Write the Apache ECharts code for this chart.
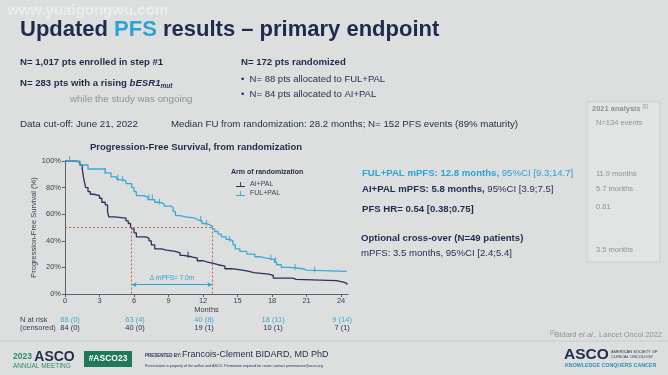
<!DOCTYPE html>
<html>
<head>
<meta charset="utf-8">
<script src="https://cdn.jsdelivr.net/npm/echarts@6/dist/echarts.min.js"></script>
<style>
  html, body { margin: 0; padding: 0; background: #dcdfde; }
  #main { width: 668px; height: 375px; }
</style>
</head>
<body>
<div id="main"></div>
<script>
// KM curves: time (months) where the step happens, survival (%) after it
const fulTimes = [0, 1.3, 2.0, 3.5, 4.0, 4.5, 5.0, 5.3, 5.8, 6.0, 6.2, 6.8, 7.2, 7.8, 8.2, 8.6, 9.2, 9.4, 9.6, 10.0, 10.5, 11.3, 11.5, 11.9, 12.3, 12.6, 12.8, 13.0, 13.3, 13.6, 14.0, 14.3, 14.6, 14.8, 15.2, 15.8, 16.5, 17.0, 17.5, 18.2, 18.4, 18.8, 19.5, 20.7, 21.0, 24.5];
const fulSurv  = [100, 97, 94, 91, 88, 86, 85, 83, 80, 77, 74, 73, 71, 69, 68, 66, 65, 62, 59, 58, 57, 56, 55, 53, 52, 51, 49, 47, 45, 43, 41, 40, 37, 34, 32, 30, 28, 27, 26, 24, 22, 20, 19, 18, 17, 17];
const aiTimes  = [0, 1.0, 1.3, 1.5, 1.6, 1.7, 1.8, 2.0, 2.2, 2.5, 3.0, 3.2, 3.5, 3.7, 3.8, 4.0, 4.3, 5.3, 5.5, 5.7, 5.8, 6.0, 6.2, 7.0, 7.3, 7.5, 7.8, 8.4, 8.8, 9.6, 10.0, 10.3, 11.0, 11.5, 12.0, 12.4, 12.9, 13.3, 13.9, 14.5, 15.4, 16.0, 16.4, 17.7, 18.1, 19.8, 20.1, 23.6, 24.2, 24.5];
const aiSurv   = [100, 99, 97, 94, 88, 84, 80, 77, 75, 74, 72, 69, 67, 62, 58, 58, 57, 55, 53, 51, 49, 46, 43, 42, 40, 37, 34, 33, 32, 31, 29, 28, 27, 25, 24, 23, 22, 21, 19, 18, 17, 16, 15, 14, 12, 11, 10, 9, 8, 7];
// censor marks
const fulCensor = [0.4, 3.5, 4.6, 5.0, 7.3, 7.6, 8.2, 11.8, 12.3, 14.3, 17.9, 18.3, 20.0, 21.7];
const aiCensor  = [10.7];
// medians
const medianFul = 12.8;
const medianAi  = 5.8;
// number at risk table
const riskTimes    = [0, 6, 12, 18, 24];
const fulRisk      = ['88 (0)', '63 (4)', '40 (8)', '18 (11)', '9 (14)'];
const aiRisk       = ['84 (0)', '40 (0)', '19 (1)', '10 (1)', '7 (1)'];
const xTicks       = [0, 3, 6, 9, 12, 15, 18, 21, 24];

const NAVY = '#1e2b4d';
const BLUE = '#2ba3d6';
const GRAY = '#8d9296';
const FUL_C = '#3aa9d5';
const AI_C = '#2b305c';

const survAt = (times, surv, t) => {
  let v = surv[0];
  for (let i = 0; i < times.length; i++) {
    if (times[i] <= t) v = surv[i];
  }
  return v;
};

const chart = echarts.init(document.getElementById('main'), null, { renderer: 'canvas' });

// small helper for slide text
const txt = (x, y, text, o) => ({
  type: 'text', x: x, y: y, silent: true,
  style: Object.assign({
    text: text, fill: NAVY, fontFamily: 'Liberation Sans, Arial, sans-serif',
    fontSize: 9.5, align: 'left', verticalAlign: 'middle'
  }, o || {})
});

const slideText = [
  txt(7, 11, 'www.yuaigongwu.com', { fill: 'rgba(255,255,255,0.45)', fontSize: 15, fontWeight: 'bold' }),
  txt(20, 30, '{n|Updated }{p|PFS}{n| results – primary endpoint}', {
    rich: {
      n: { fontSize: 22, fontWeight: 'bold', fill: NAVY, fontFamily: 'Liberation Sans' },
      p: { fontSize: 22, fontWeight: 'bold', fill: BLUE, fontFamily: 'Liberation Sans' }
    }
  }),
  txt(20, 62, 'N= 1,017 pts enrolled in step #1', { fontWeight: 'bold', fontSize: 9.6 }),
  txt(20, 83, '{b|N= 283 pts with a rising }{i|bESR1}{s|mut}', {
    rich: {
      b: { fontWeight: 'bold', fontSize: 9.6, fill: NAVY },
      i: { fontWeight: 'bold', fontStyle: 'italic', fontSize: 9.6, fill: NAVY },
      s: { fontWeight: 'bold', fontStyle: 'italic', fontSize: 6.5, fill: NAVY, padding: [6, 0, 0, 0] }
    }
  }),
  txt(70, 99, 'while the study was ongoing', { fill: GRAY, fontSize: 9.8 }),
  txt(241, 62, 'N= 172 pts randomized', { fontWeight: 'bold', fontSize: 9.6 }),
  txt(241, 79, '•  N= 88 pts allocated to FUL+PAL', { fontSize: 9.5 }),
  txt(241, 94, '•  N= 84 pts allocated to AI+PAL', { fontSize: 9.5 }),
  txt(20, 124, 'Data cut-off: June 21, 2022', { fontSize: 9.8 }),
  txt(171, 124, 'Median FU from randomization: 28.2 months; N= 152 PFS events (89% maturity)', { fontSize: 9.7 }),

  // 2021 analysis box
  { type: 'rect', shape: { x: 587, y: 102, width: 73, height: 160 }, silent: true,
    style: { fill: 'rgba(232,234,234,0.5)', stroke: '#cdd0d0', lineWidth: 1 } },
  txt(592, 109, '{a|2021 analysis }{s|[2]}', {
    rich: { a: { fontWeight: 'bold', fontSize: 7.5, fill: GRAY }, s: { fontSize: 5, fill: GRAY, padding: [0, 0, 4, 0] } }
  }),
  txt(596, 123, 'N=134 events', { fill: GRAY, fontSize: 7.5 }),
  txt(596, 174, '11.9 months', { fill: GRAY, fontSize: 7.5 }),
  txt(596, 189, '5.7 months', { fill: GRAY, fontSize: 7.5 }),
  txt(596, 207, '0.61', { fill: GRAY, fontSize: 7.5 }),
  txt(596, 250, '3.5 months', { fill: GRAY, fontSize: 7.5 }),

  // results
  txt(362, 173, '{b|FUL+PAL mPFS: 12.8 months,} 95%CI [9.3;14.7]', {
    fill: BLUE, fontSize: 9.6, rich: { b: { fontWeight: 'bold', fill: BLUE, fontSize: 9.6 } }
  }),
  txt(362, 189, '{b|AI+PAL mPFS: 5.8 months,} 95%CI [3.9;7.5]', {
    fontSize: 9.6, rich: { b: { fontWeight: 'bold', fill: NAVY, fontSize: 9.6 } }
  }),
  txt(362, 209, 'PFS HR= 0.54 [0.38;0.75]', { fontWeight: 'bold', fontSize: 9.6 }),
  txt(361, 238, 'Optional cross-over (N=49 patients)', { fontWeight: 'bold', fontSize: 9.6 }),
  txt(361, 253, 'mPFS: 3.5 months, 95%CI [2.4;5.4]', { fontSize: 9.6 }),

  // chart title and legend title
  txt(196, 147, 'Progression-Free Survival, from randomization', { fontWeight: 'bold', fontSize: 9.5, align: 'center' }),
  txt(231, 172, 'Arm of randomization', { fontWeight: 'bold', fontSize: 7 }),
  txt(20, 320, 'N at risk', { fontSize: 7.5, fill: '#3a3f4f' }),
  txt(20, 328, '(censored)', { fontSize: 7.5, fill: '#3a3f4f' }),

  // references and footer
  txt(662, 335, '{s|[2]}{r|Bidard }{i|et al.}{r|, Lancet Oncol 2022}', {
    align: 'right',
    rich: {
      s: { fontSize: 4.5, fill: GRAY, padding: [0, 0, 4, 0] },
      r: { fontSize: 7.5, fill: GRAY },
      i: { fontSize: 7.5, fill: GRAY, fontStyle: 'italic' }
    }
  }),
  { type: 'line', shape: { x1: 0, y1: 341, x2: 668, y2: 341 }, silent: true, style: { stroke: '#c9cccc', lineWidth: 1 } },
  txt(13, 357, '{y|2023 }{a|ASCO}', {
    rich: {
      y: { fontSize: 8.5, fontWeight: 'bold', fill: '#2a8a68' },
      a: { fontSize: 14, fontWeight: 'bold', fill: NAVY }
    }
  }),
  txt(13, 366, 'ANNUAL MEETING', { fontSize: 6.5, fill: '#2a8a68' }),
  { type: 'rect', shape: { x: 84, y: 351, width: 48, height: 16 }, silent: true, style: { fill: '#1f7a5c' } },
  txt(108, 359, '#ASCO23', { fill: '#ffffff', fontSize: 8.5, fontWeight: 'bold', align: 'center' }),
  txt(145, 356, 'PRESENTED BY:', { fontSize: 4.5, fontWeight: 'bold' }),
  txt(182, 355, 'Francois-Clement BIDARD, MD PhD', { fontSize: 9 }),
  txt(145, 366, 'Presentation is property of the author and ASCO. Permission required for reuse; contact permissions@asco.org.', { fontSize: 3.6 }),
  txt(564, 355, 'ASCO', { fontSize: 15.5, fontWeight: 'bold', fill: NAVY }),
  txt(611, 352, 'AMERICAN SOCIETY OF', { fontSize: 4, fill: NAVY }),
  txt(611, 357, 'CLINICAL ONCOLOGY', { fontSize: 4, fill: NAVY }),
  txt(565, 366, 'KNOWLEDGE CONQUERS CANCER', { fontSize: 5.3, fontWeight: 'bold', fill: '#2a8fb8' })
];

const censorSymbol = 'path://M0,0h1v10h-1z';
const legendIcon = 'path://M0,9h20v2h-20z M9,0h2v10h-2z';

const option = {
  backgroundColor: '#dcdfde',
  animation: false,
  textStyle: { fontFamily: 'Liberation Sans, Arial, sans-serif' },
  grid: { left: 65, right: 320, top: 161, bottom: 81 },
  legend: {
    data: [{ name: 'AI+PAL', icon: legendIcon }, { name: 'FUL+PAL', icon: legendIcon }],
    orient: 'vertical', left: 231, top: 176, itemWidth: 9, itemHeight: 8, itemGap: 2,
    textStyle: { fontSize: 7, color: '#3a3f4f' }
  },
  xAxis: {
    type: 'value', min: 0, max: 24.6, interval: 3,
    name: 'Months', nameLocation: 'middle', nameGap: 11,
    nameTextStyle: { fontSize: 7.5, color: '#3a3f4f' },
    axisLine: { lineStyle: { color: '#5c6070', width: 1 } },
    axisTick: { customValues: xTicks, length: 3, lineStyle: { color: '#5c6070' } },
    axisLabel: { customValues: xTicks, fontSize: 7.5, color: '#3a3f4f', margin: 3 },
    splitLine: { show: false }
  },
  yAxis: {
    type: 'value', min: 0, max: 100, interval: 20,
    name: 'Progression-Free Survival (%)', nameLocation: 'middle', nameGap: 23,
    nameTextStyle: { fontSize: 7.5, color: '#3a3f4f' },
    axisLine: { show: true, lineStyle: { color: '#5c6070', width: 1 } },
    axisTick: { show: true, length: 3, lineStyle: { color: '#5c6070' } },
    axisLabel: { formatter: '{value}%', fontSize: 7.5, color: '#3a3f4f', margin: 4 },
    splitLine: { show: false }
  },
  series: [
    {
      name: 'AI+PAL', type: 'line', step: 'end', symbol: 'none',
      color: AI_C, lineStyle: { width: 1.3, color: AI_C },
      data: aiTimes.map((t, i) => [t, aiSurv[i]]),
      z: 3
    },
    {
      name: 'FUL+PAL', type: 'line', step: 'end', symbol: 'none',
      color: FUL_C, lineStyle: { width: 1.3, color: FUL_C },
      data: fulTimes.map((t, i) => [t, fulSurv[i]]),
      z: 4,
      markLine: {
        silent: true, symbol: 'none',
        lineStyle: { color: '#b4553e', type: [2, 2], width: 0.9 },
        label: { show: false },
        data: [
          [{ coord: [0, 50] }, { coord: [medianFul, 50] }],
          [{ coord: [medianAi, 50] }, { coord: [medianAi, 0] }],
          [{ coord: [medianFul, 50] }, { coord: [medianFul, 0] }],
          [
            { coord: [medianAi, 7], symbol: 'arrow', symbolSize: [4, 5],
              lineStyle: { color: BLUE, type: 'solid', width: 1 },
              label: { show: true, position: 'middle', formatter: 'Δ mPFS= 7.0m', color: BLUE, fontSize: 6.5, distance: 3 } },
            { coord: [medianFul, 7], symbol: 'arrow', symbolSize: [4, 5] }
          ]
        ]
      }
    },
    {
      type: 'scatter', symbol: censorSymbol, symbolSize: [1.2, 6], symbolOffset: [0, -2],
      itemStyle: { color: FUL_C }, z: 5,
      data: fulCensor.map(t => [t, survAt(fulTimes, fulSurv, t)])
    },
    {
      type: 'scatter', symbol: censorSymbol, symbolSize: [1.2, 6], symbolOffset: [0, -2],
      itemStyle: { color: AI_C }, z: 5,
      data: aiCensor.map(t => [t, survAt(aiTimes, aiSurv, t)])
    }
  ],
  graphic: slideText
};

chart.setOption(option);

// number-at-risk rows, placed under the axis ticks through the chart's own scale
const riskText = [];
riskTimes.forEach((t, i) => {
  const px = chart.convertToPixel({ gridIndex: 0 }, [t, 0])[0] + (i === 0 ? 5 : 1);
  riskText.push(txt(px, 320, fulRisk[i], { fill: FUL_C, fontSize: 7.5, align: 'center' }));
  riskText.push(txt(px, 328, aiRisk[i], { fill: '#2b305c', fontSize: 7.5, align: 'center' }));
});
chart.setOption({ graphic: slideText.concat(riskText) });
</script>
</body>
</html>
